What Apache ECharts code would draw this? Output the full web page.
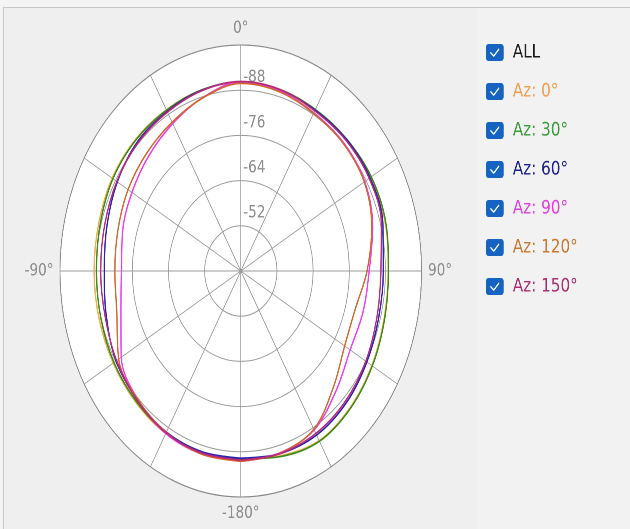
<!DOCTYPE html>
<html>
<head>
<meta charset="utf-8">
<script src="https://cdn.jsdelivr.net/npm/echarts@6/dist/echarts.min.js"></script>
<style>
  html, body { margin: 0; padding: 0; background: #f4f4f4; width: 630px; height: 529px; overflow: hidden; }
  #panelL { position: absolute; left: 3px; top: 7px; width: 475px; height: 540px; box-sizing: border-box;
            border: 1px solid #c8c8c8; background: #efefef; }
  #panelR { position: absolute; left: 477px; top: 7px; width: 160px; height: 540px; box-sizing: border-box;
            border-top: 1px solid #c8c8c8; background: #f2f2f2; }
  #disc { position: absolute; left: 60.2px; top: 45px; width: 361.6px; height: 452px; border-radius: 50%; background: #ffffff; }
  #chart { position: absolute; left: 0; top: 0; width: 788px; height: 529px; transform: scaleX(0.8); transform-origin: 0 0; }
</style>
</head>
<body>
<div id="panelL"></div>
<div id="panelR"></div>
<div id="disc"></div>
<div id="chart"></div>
<script>
// angle (deg) of each sample, -180..180
const angles = [-180,-165,-150,-135,-120,-105,-90,-75,-60,-45,-30,-15,0,15,30,45,60,75,90,105,120,135,150,165,180];
// received level (dBm) per azimuth setting
const az0   = [-89.9,-89.8,-89.8,-89.3,-88.9,-88.7,-88.7,-88.8,-89.3,-89.4,-89.4,-89.8,-90.1,-89.8,-89.4,-89.5,-89.8,-89.6,-88.9,-89.2,-90.2,-91.3,-92.0,-90.8,-89.9];
const az30  = [-89.9,-89.8,-89.6,-89.0,-88.6,-88.1,-87.9,-88.3,-89.0,-89.2,-89.3,-89.8,-90.2,-89.9,-89.5,-89.6,-90.0,-89.8,-89.0,-89.4,-90.4,-91.5,-92.2,-91.0,-89.9];
const az60  = [-89.7,-89.7,-89.4,-88.5,-87.8,-86.2,-85.3,-86.0,-87.3,-88.5,-88.9,-89.7,-90.2,-89.8,-89.3,-89.5,-89.5,-88.8,-87.3,-87.4,-88.3,-89.5,-90.3,-90.2,-89.7];
const az90  = [-90.5,-90.3,-89.8,-88.3,-85.8,-81.2,-79.6,-80.6,-81.7,-83.2,-85.2,-87.8,-90.2,-89.5,-88.5,-88.2,-87.5,-85.3,-82.6,-82.0,-81.9,-84.8,-88.7,-90.0,-90.5];
const az120 = [-90.5,-90.3,-89.5,-88.3,-86.8,-82.6,-81.8,-82.2,-83.2,-84.2,-85.6,-87.7,-89.8,-89.3,-88.3,-88.0,-87.3,-85.0,-81.9,-79.3,-79.8,-83.5,-88.5,-90.1,-90.5];
const az150 = [-90.2,-90.0,-89.6,-88.6,-87.6,-86.6,-86.5,-86.8,-87.5,-88.2,-88.7,-89.6,-90.3,-89.9,-89.1,-89.2,-89.2,-88.3,-86.5,-86.8,-87.9,-89.0,-89.8,-90.2,-90.2];

const seriesNames = ['Az: 0°','Az: 30°','Az: 60°','Az: 90°','Az: 120°','Az: 150°'];
const seriesValues = [az0, az30, az60, az90, az120, az150];
const lineColors = ['#F2AE4A','#3A8A1A','#2A22B0','#EE3CEE','#D0682A','#B8287A'];
const textColors = ['#F0A050','#3C9A3C','#1E1E8C','#E040E0','#C87830','#A83070'];

const radiusMin = -100, radiusMax = -40, radiusStep = 12;
const angleLabelStep = 90;

const FONT = '"DejaVu Sans", "Noto Sans", sans-serif';

const boxSvg = '<svg xmlns="http://www.w3.org/2000/svg" width="29" height="18" viewBox="0 0 29 18">' +
  '<rect x="0.5" y="0.5" width="22" height="17" rx="3" ry="3" fill="#1563C2"/>' +
  '<polyline points="6.5,9.3 10.2,12.6 16.5,5.8" fill="none" stroke="#ffffff" stroke-width="1.5" stroke-linecap="round" stroke-linejoin="round"/>' +
  '</svg>';
const boxIcon = 'image://data:image/svg+xml;charset=utf-8,' + encodeURIComponent(boxSvg);

const toAxisAngle = a => (a < 0 ? a + 360 : a);

const series = [{
  name: 'ALL', type: 'line', coordinateSystem: 'polar', data: [], showSymbol: false
}].concat(seriesNames.map((name, i) => ({
  name: name,
  type: 'line',
  coordinateSystem: 'polar',
  data: angles.map((a, j) => [seriesValues[i][j], toAxisAngle(a)]),
  smooth: 0.35,
  symbol: 'none',
  lineStyle: { color: lineColors[i], width: 1.7 },
  itemStyle: { color: lineColors[i] },
  z: 3 + i
})));

const chart = echarts.init(document.getElementById('chart'), null, { renderer: 'canvas', devicePixelRatio: 2 });
chart.setOption({
  animation: false,
  backgroundColor: 'transparent',
  textStyle: { fontFamily: FONT },
  polar: { center: [301, 271], radius: 226 },
  angleAxis: {
    type: 'value', min: 0, max: 360, interval: 30,
    startAngle: 90, clockwise: true,
    axisLine: { show: true, lineStyle: { color: '#888888', width: 1 } },
    axisTick: { show: false },
    axisLabel: {
      color: '#8c8c8c', fontSize: 17, fontFamily: FONT, margin: 8,
      formatter: v => (v % angleLabelStep !== 0 || v >= 360) ? '' : ((v >= 180 ? v - 360 : v) + '°')
    },
    splitLine: { show: true, lineStyle: { color: '#9a9a9a', width: 1, type: 'solid' } },
    splitArea: { show: false }
  },
  radiusAxis: {
    type: 'value', min: radiusMin, max: radiusMax, interval: radiusStep, inverse: true,
    axisLine: { show: false },
    axisTick: { show: false },
    axisLabel: {
      color: '#8c8c8c', fontSize: 17, fontFamily: FONT,
      showMinLabel: false, showMaxLabel: false,
      align: 'left', verticalAlign: 'bottom', padding: [0, 0, 4, 0], margin: -3
    },
    splitLine: { show: true, lineStyle: { color: '#9a9a9a', width: 1, type: 'solid', opacity: 1 } },
    splitArea: { show: false }
  },
  legend: {
    orient: 'vertical', left: 607, top: 43, padding: 0,
    itemWidth: 29, itemHeight: 18, itemGap: 20,
    icon: boxIcon,
    textStyle: { fontSize: 19, fontFamily: FONT, color: '#1a1a1a' },
    data: [{ name: 'ALL', icon: boxIcon, textStyle: { color: '#1a1a1a' } }].concat(
      seriesNames.map((n, i) => ({ name: n, icon: boxIcon, textStyle: { color: textColors[i] } })))
  },
  series: series
});
</script>
</body>
</html>
